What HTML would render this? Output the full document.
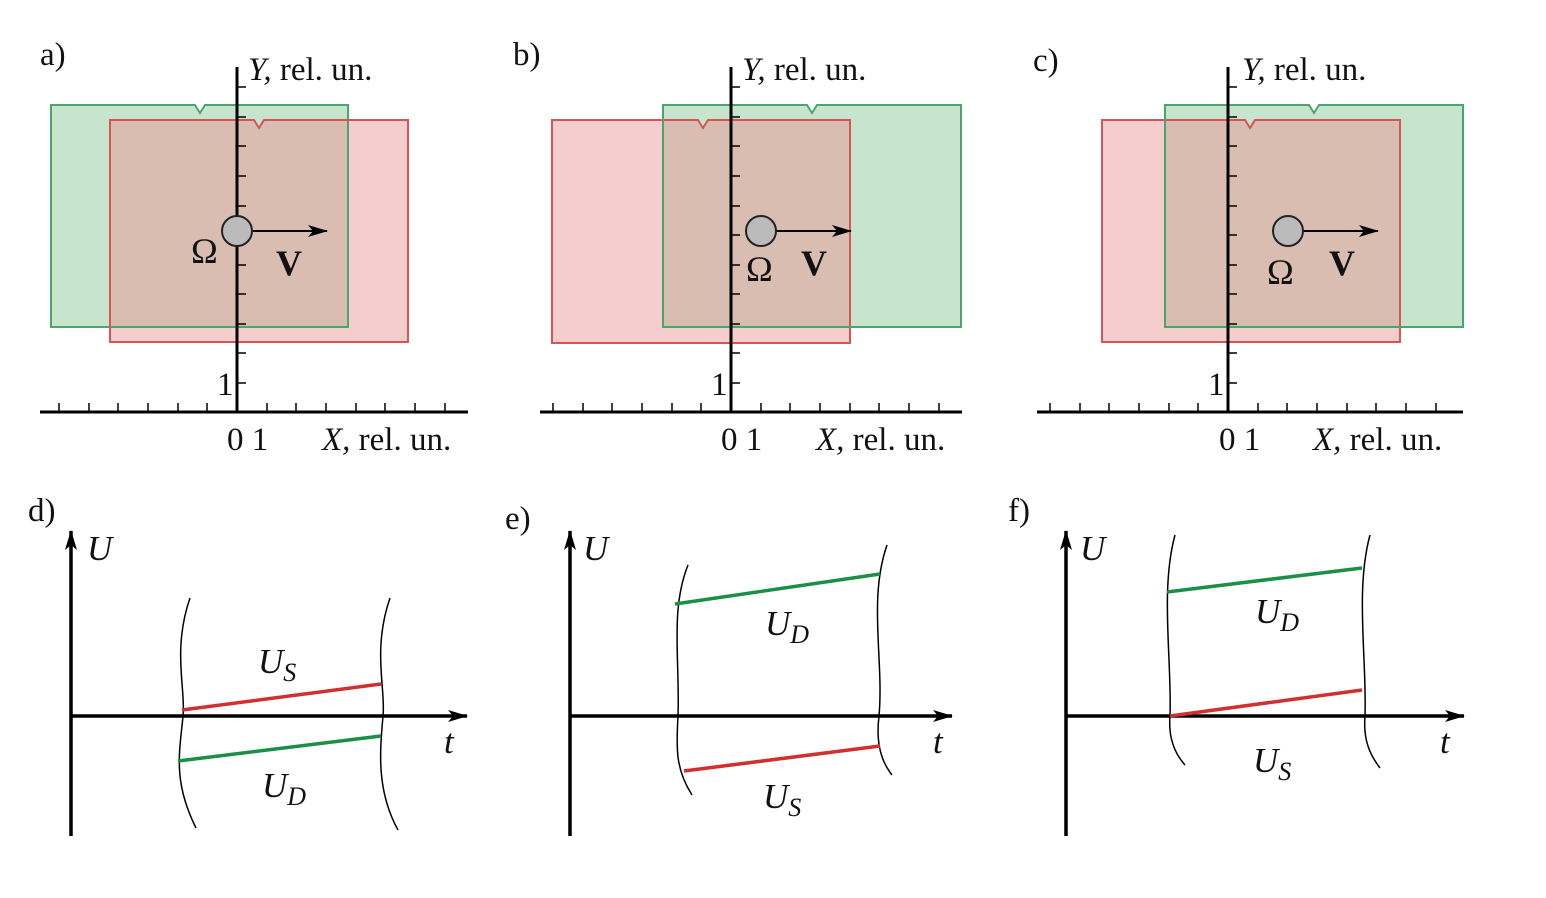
<!DOCTYPE html>
<html><head><style>body{margin:0;background:#fff}svg{display:block}text{font-family:"Liberation Serif",serif;fill:#111}</style></head>
<body>
<svg width="1546" height="898" viewBox="0 0 1546 898">
<defs>
<marker id="ah" markerWidth="20" markerHeight="12" refX="19" refY="6" orient="auto" markerUnits="userSpaceOnUse"><path d="M0,0 L20,6 L0,12 L5,6 Z" fill="#000"/></marker>
</defs>
<!-- a -->
<path d="M51,105 H195 L200,113 L205,105 H348 V327 H51 Z" fill="#c6e5cc"/>
<path d="M110,120 H254 L259,128 L264,120 H408 V342 H110 Z" fill="#f6cdcd"/>
<path d="M110,120 H254 L259,128 L264,120 H348 V327 H110 Z" fill="#d9bdb1"/>
<path d="M51,105 H195 L200,113 L205,105 H348 V327 H51 Z" fill="none" stroke="#4aa66a" stroke-width="2"/>
<path d="M110,120 H254 L259,128 L264,120 H408 V342 H110 Z" fill="none" stroke="#d85555" stroke-width="2"/>
<!-- b -->
<path d="M552,120 H698 L703,128 L708,120 H850 V343 H552 Z" fill="#f6cdcd"/>
<path d="M663,105 H807 L812,113 L817,105 H961 V327 H663 Z" fill="#c6e5cc"/>
<path d="M663,120 H698 L703,128 L708,120 H850 V327 H663 Z" fill="#d9bdb1"/>
<path d="M552,120 H698 L703,128 L708,120 H850 V343 H552 Z" fill="none" stroke="#d85555" stroke-width="2"/>
<path d="M663,105 H807 L812,113 L817,105 H961 V327 H663 Z" fill="none" stroke="#4aa66a" stroke-width="2"/>
<!-- c -->
<path d="M1102,120 H1245 L1250,128 L1255,120 H1400 V342 H1102 Z" fill="#f6cdcd"/>
<path d="M1165,105 H1309 L1314,113 L1319,105 H1463 V327 H1165 Z" fill="#c6e5cc"/>
<path d="M1165,120 H1245 L1250,128 L1255,120 H1400 V327 H1165 Z" fill="#d9bdb1"/>
<path d="M1102,120 H1245 L1250,128 L1255,120 H1400 V342 H1102 Z" fill="none" stroke="#d85555" stroke-width="2"/>
<path d="M1165,105 H1309 L1314,113 L1319,105 H1463 V327 H1165 Z" fill="none" stroke="#4aa66a" stroke-width="2"/>

<g stroke="#000" stroke-width="3" fill="none">
<path d="M237,67 V412 M40,412 H468"/>
<path d="M731,67 V412 M540,412 H962"/>
<path d="M1228,67 V412 M1037,412 H1463"/>
</g>
<g stroke="#000" stroke-width="1.5">
<path d="M59,412v-9M89,412v-9M118,412v-9M148,412v-9M178,412v-9M207,412v-9M267,412v-9M296,412v-9M326,412v-9M356,412v-9M385,412v-9M415,412v-9M445,412v-9"/>
<path d="M237,383h9M237,353h9M237,324h9M237,294h9M237,265h9M237,235h9M237,206h9M237,176h9M237,146h9M237,117h9M237,87h9"/>
<path d="M553,412v-9M583,412v-9M612,412v-9M642,412v-9M672,412v-9M701,412v-9M761,412v-9M790,412v-9M820,412v-9M850,412v-9M879,412v-9M909,412v-9M939,412v-9"/>
<path d="M731,383h9M731,353h9M731,324h9M731,294h9M731,265h9M731,235h9M731,206h9M731,176h9M731,146h9M731,117h9M731,87h9"/>
<path d="M1050,412v-9M1080,412v-9M1109,412v-9M1139,412v-9M1169,412v-9M1198,412v-9M1258,412v-9M1287,412v-9M1317,412v-9M1347,412v-9M1376,412v-9M1406,412v-9M1436,412v-9"/>
<path d="M1228,383h9M1228,353h9M1228,324h9M1228,294h9M1228,265h9M1228,235h9M1228,206h9M1228,176h9M1228,146h9M1228,117h9M1228,87h9"/>
</g>
<g stroke="#000" stroke-width="2">
<line x1="252" y1="231" x2="327" y2="231" marker-end="url(#ah)"/>
<line x1="776" y1="231" x2="851" y2="231" marker-end="url(#ah)"/>
<line x1="1303" y1="231" x2="1378" y2="231" marker-end="url(#ah)"/>
</g>
<g fill="#bbb" stroke="#222" stroke-width="2">
<circle cx="237" cy="231" r="15"/><circle cx="761" cy="231" r="15"/><circle cx="1288" cy="231" r="15"/>
</g>
<g font-size="36">
<text x="191" y="263" fill="#333">Ω</text><text x="276" y="275" font-weight="bold" fill="#333">V</text>
<text x="746" y="281" fill="#333">Ω</text><text x="801" y="275" font-weight="bold" fill="#333">V</text>
<text x="1267" y="284" fill="#333">Ω</text><text x="1329" y="275" font-weight="bold" fill="#333">V</text>
</g>
<g font-size="33">
<text x="40" y="65">a)</text><text x="513" y="65">b)</text><text x="1033" y="71">c)</text>
<text x="248" y="80"><tspan font-style="italic">Y,</tspan> rel. un.</text>
<text x="742" y="80"><tspan font-style="italic">Y,</tspan> rel. un.</text>
<text x="1242" y="80"><tspan font-style="italic">Y,</tspan> rel. un.</text>
<text x="217" y="395">1</text><text x="711" y="395">1</text><text x="1208" y="395">1</text>
<text x="227" y="450">0 1</text><text x="322" y="450"><tspan font-style="italic">X,</tspan> rel. un.</text>
<text x="721" y="450">0 1</text><text x="816" y="450"><tspan font-style="italic">X,</tspan> rel. un.</text>
<text x="1219" y="450">0 1</text><text x="1313" y="450"><tspan font-style="italic">X,</tspan> rel. un.</text>
<text x="28" y="521">d)</text><text x="505" y="529">e)</text><text x="1008" y="521">f)</text>
</g>
<g stroke="#000" stroke-width="3.5">
<line x1="71" y1="836" x2="71" y2="531" marker-end="url(#ah)"/>
<line x1="71" y1="716" x2="467" y2="716" marker-end="url(#ah)"/>
<line x1="570" y1="836" x2="570" y2="531" marker-end="url(#ah)"/>
<line x1="570" y1="716" x2="952" y2="716" marker-end="url(#ah)"/>
<line x1="1066" y1="836" x2="1066" y2="531" marker-end="url(#ah)"/>
<line x1="1066" y1="716" x2="1464" y2="716" marker-end="url(#ah)"/>
</g>
<g stroke="#000" stroke-width="1.5" fill="none">
<path d="M190,598 C172,650 186,690 183,716 C180,750 172,780 196,828"/>
<path d="M390,598 C372,650 386,690 383,716 C380,750 376,790 398,830"/>
<path d="M688,565 C670,610 680,660 678,716 C676,750 676,770 692,795"/>
<path d="M887,545 C868,600 884,660 879,716 C876,740 880,760 892,775"/>
<path d="M1175,535 C1160,590 1172,660 1170,716 C1168,740 1176,755 1185,765"/>
<path d="M1370,535 C1355,590 1367,660 1365,716 C1363,740 1370,755 1380,768"/>
</g>
<g stroke-width="3.5">
<line x1="182" y1="710" x2="381" y2="684" stroke="#d0302f"/>
<line x1="178" y1="761" x2="381" y2="736" stroke="#199045"/>
<line x1="675" y1="604" x2="880" y2="574" stroke="#199045"/>
<line x1="684" y1="771" x2="880" y2="746" stroke="#d0302f"/>
<line x1="1167" y1="592" x2="1362" y2="568" stroke="#199045"/>
<line x1="1170" y1="716" x2="1362" y2="690" stroke="#d0302f"/>
</g>
<g font-size="35" font-style="italic" fill="#222">
<text x="87" y="560">U</text><text x="583" y="560">U</text><text x="1080" y="560">U</text>
<text x="444" y="753">t</text><text x="933" y="753">t</text><text x="1440" y="753">t</text>
<text x="258" y="673">U<tspan font-size="26" dy="8">S</tspan></text>
<text x="262" y="797">U<tspan font-size="26" dy="8">D</tspan></text>
<text x="765" y="635">U<tspan font-size="26" dy="8">D</tspan></text>
<text x="763" y="808">U<tspan font-size="26" dy="8">S</tspan></text>
<text x="1255" y="623">U<tspan font-size="26" dy="8">D</tspan></text>
<text x="1253" y="772">U<tspan font-size="26" dy="8">S</tspan></text>
</g>
</svg>
</body></html>
